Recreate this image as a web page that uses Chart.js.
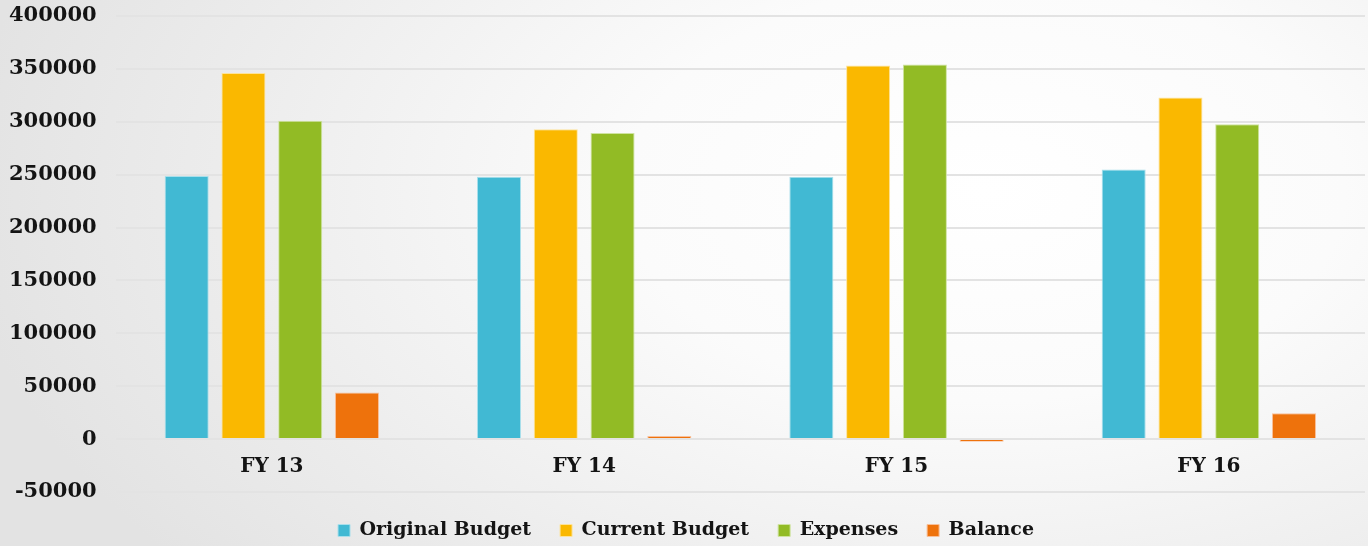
<!DOCTYPE html>
<html>
<head>
<meta charset="utf-8">
<script src="https://cdn.jsdelivr.net/npm/chart.js@4/dist/chart.umd.min.js"></script>
<style>
  html, body { margin: 0; padding: 0; }
  body {
    width: 1368px; height: 546px; overflow: hidden;
    background: radial-gradient(ellipse 75% 110% at 72% 35%, #ffffff 0%, #fbfbfb 35%, #ececec 75%, #e3e3e3 100%);
  }
  #wrap { position: relative; width: 1368px; height: 546px; }
</style>
</head>
<body>
<div id="wrap"><canvas id="budget"></canvas></div>
<script>
// values
const years = ['FY 13', 'FY 14', 'FY 15', 'FY 16'];
const originalBudget = [248800, 248000, 248100, 255000];
const currentBudget = [346000, 292900, 353100, 323000];
const expenses = [301000, 289400, 354100, 297700];
const balance = [44000, 3000, -2500, 24500];

const FONT = 'DejaVu Serif';
const TEXT = '#141414';

function series(label, values, fill, edge) {
  return {
    label: label,
    data: values,
    backgroundColor: fill,
    borderColor: edge,
    borderWidth: 1,
    categoryPercentage: 0.727,
    barPercentage: 0.776,
  };
}

const ctx = document.getElementById('budget').getContext('2d');
new Chart(ctx, {
  type: 'bar',
  data: {
    labels: years,
    datasets: [
      series('Original Budget', originalBudget, '#41b9d3', '#a9dfeb'),
      series('Current Budget', currentBudget, '#fab800', '#fde39a'),
      series('Expenses', expenses, '#92bb25', '#cfe3a0'),
      series('Balance', balance, '#ee720c', '#f8c09a'),
    ],
  },
  options: {
    responsive: true,
    maintainAspectRatio: false,
    animation: false,
    layout: { padding: { top: 16, left: 7, right: 3, bottom: -4 } },
    plugins: {
      tooltip: { enabled: false },
      legend: {
        position: 'bottom',
        labels: {
          boxWidth: 12,
          boxHeight: 12,
          padding: 29,
          color: TEXT,
          font: { family: FONT, size: 19, weight: 'bold' },
        },
      },
    },
    scales: {
      x: {
        position: { y: 0 },
        grid: { display: false, drawTicks: true, tickLength: 8 },
        border: { display: false },
        ticks: {
          padding: 8,
          color: TEXT,
          font: { family: FONT, size: 20, weight: 'bold' },
        },
      },
      y: {
        min: -50000,
        max: 400000,
        grid: { color: '#e3e3e3', lineWidth: 2, drawTicks: true, tickLength: 17, tickColor: 'rgba(0,0,0,0)' },
        border: { display: false },
        ticks: {
          stepSize: 50000,
          padding: 2,
          color: TEXT,
          font: { family: FONT, size: 21, weight: 'bold' },
          callback: (value) => String(value),
        },
      },
    },
  },
});
</script>
</body>
</html>
